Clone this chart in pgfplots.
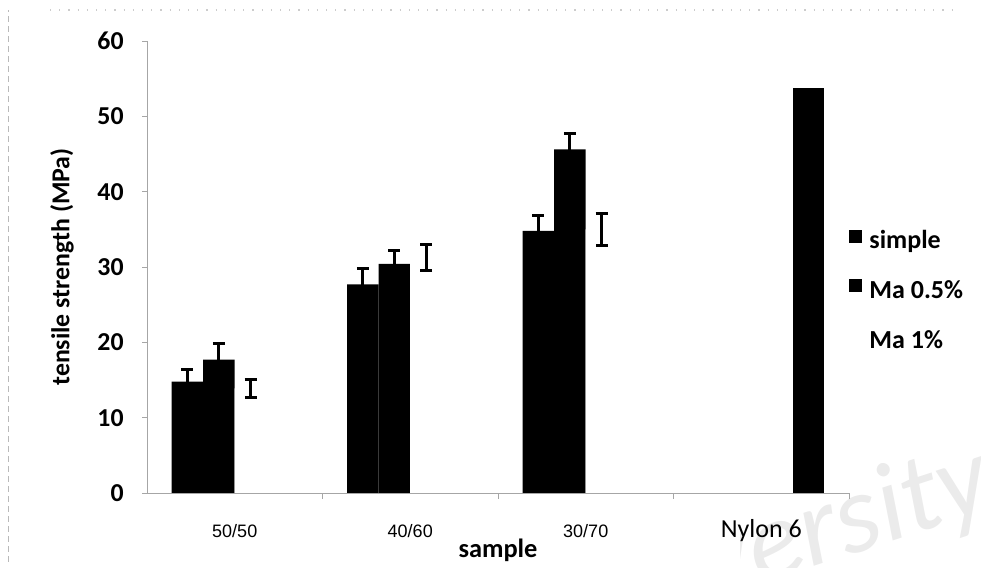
\documentclass[border=0pt]{standalone}
\usepackage{pgfplots}
\pgfplotsset{compat=1.18}
\usepackage{fontspec}
\setmainfont{Carlito}
\newfontfamily\arialf{Liberation Sans}

% tensile strength (MPa): value and half-width of the error bar
\pgfplotstableread{
x  simple  esimple  maa  emaa  mab  emab
0  14.8    1.6      17.7 2.2   13.9 1.2
1  27.7    2.1      30.4 1.8   31.3 1.7
2  34.8    2.0      45.6 2.1   35.0 2.1
}\tensile
\pgfplotstableread{
x  nylon
3  53.8
}\nylon

\pgfplotsset{
  errstyle/.style={
    error bars/.cd,
      y dir=both, y explicit,
      error mark=-,
      error bar style={line width=1.5pt, draw=black, solid},
      error mark options={rotate=90, line width=1.5pt, mark size=3pt,
                          draw=black, solid}
  }
}

\begin{document}
\begin{tikzpicture}
\useasboundingbox (0pt,0pt) rectangle (490.5pt,284pt);
% edges of the scanned page
\draw[gray!55, densely dashed, line width=0.4pt] (4pt,3pt) -- (4pt,279pt);
\draw[gray!40, loosely dotted, line width=0.6pt] (25pt,279pt) -- (480pt,279pt);
% faint watermark in the lower right corner
\begin{scope}
  \clip (370pt,0pt) rectangle (490.5pt,284pt);
  \node[rotate=18, anchor=base west, inner sep=0pt, text=gray!16,
        font=\itshape\fontsize{56}{56}\selectfont]
    at (282pt,-40pt) {University};
\end{scope}

\begin{axis}[
  at={(73.5pt,37.5pt)}, anchor=south west,
  scale only axis, width=351pt, height=226pt,
  xmin=-0.5, xmax=3.5, ymin=0, ymax=60,
  axis lines*=left,
  axis line style={gray!70, line width=0.4pt},
  tick align=outside, major tick length=2.5pt,
  tick style={gray!70, line width=0.4pt},
  ytick={0,10,...,60},
  /pgf/number format/assume math mode=true,
  y tick label style={font=\bfseries\fontsize{12.9}{14}\selectfont,
                      anchor=east, inner sep=0pt, xshift=-9pt},
  xtick={0,1,2,3},
  xticklabels={{\arialf\fontsize{9}{10}\selectfont 50/50},
               {\arialf\fontsize{9}{10}\selectfont 40/60},
               {\arialf\fontsize{9}{10}\selectfont 30/70},
               {\fontsize{13}{15}\selectfont Nylon 6}},
  x tick label style={anchor=base, inner sep=0pt, yshift=-20pt},
  major x tick style={draw=none},
  extra x ticks={0.5,1.5,2.5,3.5},
  extra x tick labels={},
  extra x tick style={major x tick style={draw=gray!70}, major tick length=3pt},
  xlabel={sample},
  xlabel style={font=\bfseries\fontsize{13.2}{15}\selectfont,
                at={(axis description cs:0.5,-0.1438)}, anchor=base},
  ylabel={tensile strength (MPa)},
  ylabel style={font=\bfseries\fontsize{12.9}{14}\selectfont,
                at={(axis description cs:-0.121,0.5)}, anchor=center},
  ybar, bar width=0.18,
  legend image code/.code={\fill[#1] (0pt,0pt) rectangle (6.5pt,6.6pt);},
  legend style={draw=none, fill=none, inner sep=0pt,
                at={(axis description cs:1.0,0.445)}, anchor=west,
                font=\bfseries\fontsize{13}{15}\selectfont,
                nodes={inner sep=0pt, text height=9pt, text depth=3pt},
                row sep=12.25pt, column sep=3.5pt},
  legend cell align=left,
]
\addplot[fill=black, draw=none, bar shift=-0.27, errstyle]
  table[x=x, y=simple, y error=esimple] {\tensile};
\addlegendentry{simple}
\addplot[fill=black, draw=none, bar shift=-0.09, errstyle]
  table[x=x, y=maa, y error=emaa] {\tensile};
\addlegendentry{Ma 0.5\%}
\addplot[fill=white, draw=none, bar shift=0.09, errstyle]
  table[x=x, y=mab, y error=emab] {\tensile};
\addlegendentry{Ma 1\%}
\addplot[fill=black, draw=none, bar shift=0.27, forget plot]
  table[x=x, y=nylon] {\nylon};
\end{axis}
\end{tikzpicture}
\end{document}
